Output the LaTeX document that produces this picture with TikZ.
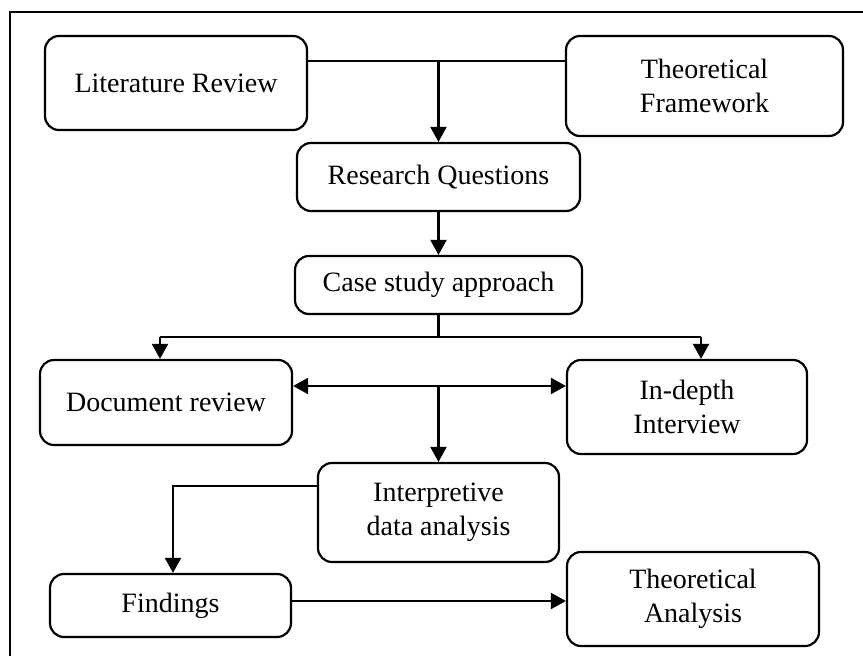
\documentclass[tikz,border=0pt]{standalone}
\usepackage{fontspec}
\setmainfont{Liberation Serif}
\usetikzlibrary{arrows.meta}

\tikzset{
  tip/.tip={Triangle[length=15pt,width=16pt]},
  box/.style={draw, line width=2.2pt, rounded corners=14pt, align=center,
    inner sep=0pt, font=\fontsize{28pt}{34pt}\selectfont},
  link/.style={line width=2.2pt},
  arr/.style={line width=2.2pt, -tip},
  biarr/.style={line width=2.2pt, tip-tip},
}

\begin{document}
\begin{tikzpicture}[x=1pt, y=-1pt]
  \useasboundingbox (0,0) rectangle (863,656);
  \clip (0,0) rectangle (863,656);

  % outer frame
  \draw[line width=2.2pt] (10,12) rectangle (880,680);

  % boxes
  \node[box, minimum width=262pt, minimum height=94pt]  (lit) at (176,83)    {Literature Review};
  \node[box, minimum width=277pt, minimum height=100pt] (tf)  at (704.5,86)  {Theoretical\\Framework};
  \node[box, minimum width=283pt, minimum height=68pt]  (rq)  at (438.5,177) {Research Questions};
  \node[box, minimum width=287pt, minimum height=58pt]  (cs)  at (438.5,285) {Case study approach};
  \node[box, minimum width=252pt, minimum height=85pt]  (doc) at (166,402.5) {Document review};
  \node[box, minimum width=240pt, minimum height=94pt]  (idi) at (687,407)   {In-depth\\Interview};
  \node[box, minimum width=241pt, minimum height=99pt]  (ida) at (438.5,512.5) {Interpretive\\data analysis};
  \node[box, minimum width=241pt, minimum height=63pt]  (fin) at (170.5,605.5) {Findings};
  \node[box, minimum width=252pt, minimum height=94pt]  (ta)  at (693,599)   {Theoretical\\Analysis};

  % junction points
  \coordinate (j1) at (438.5,61);
  \coordinate (j2) at (438.5,337);
  \coordinate (dl) at (160,337);
  \coordinate (dr) at (701,337);
  \coordinate (j3) at (438.5,386);
  \coordinate (j4) at (173,486);
  \coordinate (j5) at (430,601);

  % connectors
  \draw[link] (lit.east |- j1) -- (tf.west |- j1);
  \draw[arr] (j1) -- (j1 |- rq.north);
  \draw[arr] (rq.south) -- (rq.south |- cs.north);
  \draw[link] (cs.south) -- (j2);
  \draw[link] (dl) -- (dr);
  \draw[arr] (dl) -- (dl |- doc.north);
  \draw[arr] (dr) -- (dr |- idi.north);
  \draw[biarr] (doc.east |- j3) -- (idi.west |- j3);
  \draw[arr] (j3) -- (j3 |- ida.north);
  \draw[arr] (ida.west |- j4) -| (j4 |- fin.north);
  \draw[arr] (fin.east |- j5) -- (ta.west |- j5);
\end{tikzpicture}
\end{document}
